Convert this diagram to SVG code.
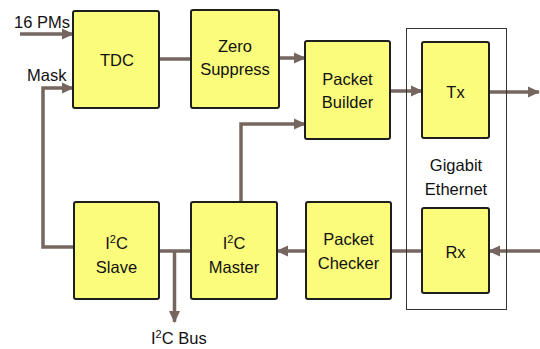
<svg xmlns="http://www.w3.org/2000/svg" width="540" height="349" viewBox="0 0 540 349">
<defs>
<style>
.box{fill:#fbfb7c;stroke:#1e1e1e;stroke-width:2}
.frame{fill:none;stroke:#333;stroke-width:1}
.t{font-family:"Liberation Sans",Arial,sans-serif;font-size:16.5px;fill:#111;text-anchor:middle}
.lbl{font-family:"Liberation Sans",Arial,sans-serif;font-size:16.5px;fill:#111}
.c{fill:none;stroke:#75675f;stroke-width:3.5}
</style>
<marker id="ah" markerUnits="userSpaceOnUse" markerWidth="12" markerHeight="12" viewBox="0 0 12 12" refX="11" refY="6" orient="auto">
<path d="M0,0.5 L12,6 L0,11.5 Z" fill="#75675f"/>
</marker>
</defs>
<rect width="540" height="349" fill="#fff"/>

<g id="connectors">
<line class="c" x1="20" y1="34" x2="73" y2="34" marker-end="url(#ah)"/>
<polyline class="c" points="74,247 43,247 43,88 73,88" marker-end="url(#ah)"/>
<line class="c" x1="159" y1="59" x2="191" y2="59"/>
<line class="c" x1="279" y1="58" x2="305" y2="58" marker-end="url(#ah)"/>
<polyline class="c" points="241,202 241,124 305,124" marker-end="url(#ah)"/>
<line class="c" x1="390" y1="91" x2="422" y2="91" marker-end="url(#ah)"/>
<line class="c" x1="489" y1="92" x2="539" y2="92" marker-end="url(#ah)"/>
<line class="c" x1="540" y1="251" x2="489" y2="251" marker-end="url(#ah)"/>
<line class="c" x1="422" y1="251" x2="391" y2="251"/>
<line class="c" x1="306" y1="251" x2="277" y2="251" marker-end="url(#ah)"/>
<line class="c" x1="159" y1="251" x2="191" y2="251"/>
<line class="c" x1="174.5" y1="251" x2="174.5" y2="322" marker-end="url(#ah)"/>
</g>

<g id="labels">
<text class="lbl" x="14" y="28">16 PMs</text>
<text class="lbl" x="27" y="81">Mask</text>
<text class="lbl" x="151" y="344">I<tspan baseline-shift="super" font-size="11">2</tspan><tspan baseline-shift="0">C Bus</tspan></text>
</g>

<g id="gigabit-ethernet">
<rect class="frame" x="406.5" y="28.5" width="100" height="281"/>
<text class="t" x="456" y="171">Gigabit</text>
<text class="t" x="456" y="195">Ethernet</text>
</g>

<g id="tdc">
<rect class="box" x="73" y="11" width="86" height="97" rx="2"/>
<text class="t" x="117" y="66">TDC</text>
</g>

<g id="zero-suppress">
<rect class="box" x="191" y="10" width="88" height="98" rx="2"/>
<text class="t" x="235" y="52">Zero</text>
<text class="t" x="235" y="75">Suppress</text>
</g>

<g id="packet-builder">
<rect class="box" x="305" y="41" width="85" height="98" rx="2"/>
<text class="t" x="347.5" y="85">Packet</text>
<text class="t" x="347.5" y="108">Builder</text>
</g>

<g id="tx">
<rect class="box" x="422" y="42" width="67" height="96" rx="2"/>
<text class="t" x="455.5" y="98">Tx</text>
</g>

<g id="rx">
<rect class="box" x="422" y="208" width="67" height="85" rx="2"/>
<text class="t" x="455.5" y="258">Rx</text>
</g>

<g id="packet-checker">
<rect class="box" x="306" y="202" width="85" height="97" rx="2"/>
<text class="t" x="348.5" y="245">Packet</text>
<text class="t" x="348.5" y="269">Checker</text>
</g>

<g id="i2c-master">
<rect class="box" x="191" y="202" width="86" height="97" rx="2"/>
<text class="t" x="234" y="249">I<tspan baseline-shift="super" font-size="11">2</tspan>C</text>
<text class="t" x="234" y="273">Master</text>
</g>

<g id="i2c-slave">
<rect class="box" x="74" y="202" width="85" height="97" rx="2"/>
<text class="t" x="116.5" y="249">I<tspan baseline-shift="super" font-size="11">2</tspan>C</text>
<text class="t" x="116.5" y="273">Slave</text>
</g>
</svg>
